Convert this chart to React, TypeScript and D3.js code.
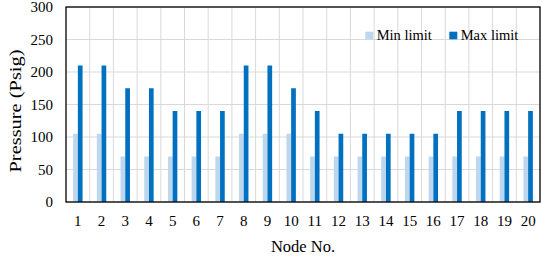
import React, { useEffect, useRef } from 'react';
import * as d3 from 'd3';

const nodes = ['1', '2', '3', '4', '5', '6', '7', '8', '9', '10', '11', '12', '13', '14', '15', '16', '17', '18', '19', '20'];
const minLimit = [105, 105, 70, 70, 70, 70, 70, 105, 105, 105, 70, 70, 70, 70, 70, 70, 70, 70, 70, 70];
const maxLimit = [210, 210, 175, 175, 140, 140, 140, 210, 210, 175, 140, 105, 105, 105, 105, 105, 140, 140, 140, 140];
const yTicks = [0, 50, 100, 150, 200, 250, 300];
const seriesNames = ['Min limit', 'Max limit'];
const colors = ['#BDD7EE', '#0070C0'];

const App = () => {
  const ref = useRef<SVGSVGElement>(null);

  useEffect(() => {
    const svg = d3.select(ref.current);
    svg.selectAll('*').remove();
    const margin = { top: 7, right: 2, bottom: 59, left: 66 };
    const W = 542, H = 261;
    const width = W - margin.left - margin.right;
    const height = H - margin.top - margin.bottom;
    const font = '"Liberation Serif", "Times New Roman", serif';

    const g = svg.append('g').attr('transform', `translate(${margin.left},${margin.top})`);

    const x = d3.scaleBand().domain(nodes).range([0, width]);
    const xs = d3.scaleBand().domain(seriesNames).range([x.bandwidth() / 2 - 4.7, x.bandwidth() / 2 + 4.7]);
    const y = d3.scaleLinear().domain([0, 300]).range([height, 0]);

    // grid
    g.selectAll('.hg').data(yTicks).enter().append('line')
      .attr('x1', 0).attr('x2', width)
      .attr('y1', (d) => y(d)).attr('y2', (d) => y(d))
      .attr('stroke', '#d9d9d9').attr('stroke-width', 1);
    g.selectAll('.vg').data(nodes.slice(1)).enter().append('line')
      .attr('x1', (d) => x(d)!).attr('x2', (d) => x(d)!)
      .attr('y1', 0).attr('y2', height)
      .attr('stroke', '#d9d9d9').attr('stroke-width', 1);

    // bars
    const series = [minLimit, maxLimit];
    series.forEach((vals, si) => {
      g.selectAll(`.bar${si}`).data(vals).enter().append('rect')
        .attr('x', (d, i) => x(nodes[i])! + xs(seriesNames[si])!)
        .attr('y', (d) => y(d))
        .attr('width', xs.bandwidth())
        .attr('height', (d) => height - y(d))
        .attr('fill', colors[si]);
    });

    // frame
    g.append('rect').attr('x', 0).attr('y', 0).attr('width', width).attr('height', height)
      .attr('fill', 'none').attr('stroke', '#000').attr('stroke-width', 1.3);

    // y tick labels
    g.selectAll('.yt').data(yTicks).enter().append('text')
      .attr('x', -13).attr('y', (d) => y(d)).attr('dy', '0.35em')
      .attr('text-anchor', 'end').attr('font-family', font).attr('font-size', 15)
      .text((d) => d);

    // x tick labels
    g.selectAll('.xt').data(nodes).enter().append('text')
      .attr('x', (d) => x(d)! + x.bandwidth() / 2).attr('y', height + 24)
      .attr('text-anchor', 'middle').attr('font-family', font).attr('font-size', 15)
      .text((d) => d);

    // axis titles
    svg.append('text').attr('x', margin.left + width / 2).attr('y', 252)
      .attr('text-anchor', 'middle').attr('font-family', font).attr('font-size', 16.5)
      .text('Node No.');
    svg.append('text').attr('transform', `translate(21,111) rotate(-90)`)
      .attr('text-anchor', 'middle').attr('font-family', font).attr('font-size', 16.5)
      .attr('textLength', 123).attr('lengthAdjust', 'spacingAndGlyphs')
      .text('Pressure (Psig)');

    // legend
    const legX = [365.3, 449.3];
    seriesNames.forEach((name, i) => {
      svg.append('rect').attr('x', legX[i]).attr('y', 31.7).attr('width', 8).attr('height', 7.6).attr('fill', colors[i]);
      svg.append('text').attr('x', legX[i] + 11.4).attr('y', 40)
        .attr('font-family', font).attr('font-size', 14.5).text(name);
    });
  }, []);

  return <svg ref={ref} width={542} height={261} style={{ position: 'absolute', left: 0, top: 0 }} />;
};

export default App;
